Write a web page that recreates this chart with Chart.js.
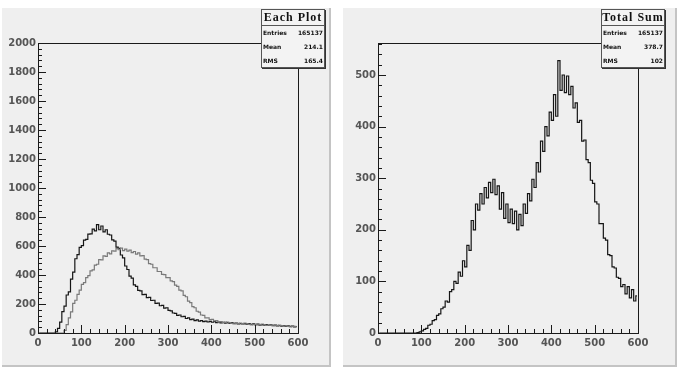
<!DOCTYPE html>
<html>
<head>
<meta charset="utf-8">
<script src="https://cdn.jsdelivr.net/npm/chart.js@4.4.0/dist/chart.umd.min.js"></script>
<style>
  html, body { margin: 0; padding: 0; background: #fff; }
  body { width: 687px; height: 369px; position: relative; overflow: hidden; }
  .pad {
    position: absolute; top: 8px; height: 357px;
    background: #efefef;
    border-right: 2px solid #c4c4c4;
    border-bottom: 2px solid #c4c4c4;
  }
  #padL { left: 2px; width: 327px; }
  #padR { left: 343px; width: 332px; }
  .pad canvas { position: absolute; left: 0; top: 0; }
  .stats {
    position: absolute; top: 1px; width: 62px; height: 57px;
    background: #f3f3f3; border: 1px solid #555;
    box-shadow: 1px 1px 0 #333;
    color: #111; overflow: hidden;
  }
  .stats .title {
    height: 15px; line-height: 15px; border-bottom: 1px solid #555;
    font-family: "Liberation Serif", serif; font-weight: bold; font-size: 12px;
    letter-spacing: 1px; text-align: center; white-space: nowrap;
  }
  .stats .row {
    height: 14px; line-height: 14px; padding: 0 1px;
    font-family: "DejaVu Sans", sans-serif; font-weight: bold; font-size: 6px;
    display: flex; justify-content: space-between; white-space: nowrap;
  }
</style>
</head>
<body>
<div class="pad" id="padL">
  <canvas id="chartL" width="327" height="357"></canvas>
  <div class="stats" style="left:259px">
    <div class="title">Each Plot</div>
    <div class="row"><span>Entries</span><span>165137</span></div>
    <div class="row"><span>Mean</span><span>214.1</span></div>
    <div class="row"><span>RMS</span><span>165.4</span></div>
  </div>
</div>
<div class="pad" id="padR">
  <canvas id="chartR" width="332" height="357"></canvas>
  <div class="stats" style="left:258px">
    <div class="title">Total Sum</div>
    <div class="row"><span>Entries</span><span>165137</span></div>
    <div class="row"><span>Mean</span><span>378.7</span></div>
    <div class="row"><span>RMS</span><span>102</span></div>
  </div>
</div>
<script>
// histogram binning: 120 bins of width 5 from 0 to 600
const X_MIN = 0;
const X_MAX = 600;
const BIN_W = 5;

// left pad ("Each Plot"): two overlaid histograms
const eachPlotA = [
  0, 0, 0, 0, 0, 0, 0, 0, 8, 32,
  75, 148, 185, 262, 284, 372, 420, 512, 541, 590,
  602, 641, 646, 682, 684, 716, 704, 748, 712, 738,
  698, 712, 681, 676, 642, 634, 592, 584, 538, 518,
  462, 438, 392, 378, 332, 322, 294, 290, 264, 266,
  244, 246, 224, 226, 204, 206, 188, 190, 172, 174,
  156, 152, 138, 136, 122, 124, 112, 114, 100, 104,
  92, 96, 86, 90, 82, 86, 78, 82, 76, 80,
  74, 78, 72, 76, 70, 74, 68, 73, 66, 71,
  65, 69, 63, 67, 62, 66, 60, 64, 58, 63,
  57, 61, 55, 59, 54, 58, 52, 56, 51, 55,
  49, 53, 48, 51, 46, 50, 44, 48, 42, 45
];
const eachPlotB = [
  0, 0, 0, 0, 0, 0, 0, 0, 0, 0,
  0, 0, 18, 58, 104, 146, 204, 226, 266, 296,
  336, 348, 382, 396, 428, 436, 468, 474, 506, 504,
  532, 528, 552, 546, 566, 564, 582, 574, 586, 568,
  578, 564, 572, 554, 562, 544, 552, 532, 534, 510,
  506, 478, 474, 450, 450, 424, 424, 404, 402, 382,
  382, 360, 354, 330, 322, 296, 290, 260, 250, 220,
  210, 182, 174, 150, 144, 124, 122, 104, 104, 92,
  94, 84, 86, 76, 79, 72, 75, 68, 71, 66,
  68, 64, 67, 62, 65, 61, 63, 59, 61, 58,
  60, 56, 58, 55, 57, 53, 55, 52, 54, 50,
  52, 49, 51, 47, 49, 46, 47, 44, 46, 43
];

// right pad ("Total Sum")
const totalSum = [
  0, 0, 0, 0, 0, 0, 0, 0, 0, 0,
  0, 0, 0, 0, 0, 0, 0, 0, 1, 2,
  4, 7, 9, 15, 17, 24, 26, 34, 37, 47,
  50, 62, 60, 80, 84, 100, 96, 118, 110, 140,
  128, 170, 160, 218, 200, 250, 238, 270, 250, 282,
  262, 292, 272, 298, 268, 285, 240, 272, 222, 250,
  214, 240, 212, 236, 200, 230, 208, 250, 232, 270,
  256, 298, 282, 330, 312, 372, 352, 400, 382, 428,
  412, 462, 420, 528, 470, 500, 466, 498, 462, 478,
  436, 446, 408, 412, 372, 374, 336, 330, 296, 290,
  254, 250, 212, 212, 184, 180, 152, 150, 128, 126,
  108, 106, 90, 94, 76, 90, 68, 84, 62, 72
];

const xTickLabels = [0, 100, 200, 300, 400, 500, 600];
const yMaxLeft = 2000;
const yMaxRight = 562;

function toPoints(values) {
  return values.map((v, i) => ({ x: X_MIN + BIN_W * (i + 0.5), y: v }));
}

// ROOT style frame with ticks pointing into the pad
function rootFrame(tk) {
  return {
    id: 'rootFrame',
    afterDraw(chart) {
      const ctx = chart.ctx;
      const a = chart.chartArea;
      const x = chart.scales.x, y = chart.scales.y;
      const left = Math.round(a.left), top = Math.round(a.top);
      const right = Math.round(a.right), bottom = Math.round(a.bottom);
      ctx.save();
      ctx.fillStyle = '#1a1a1a';
      // frame
      ctx.fillRect(left, top, right - left + 1, 1);
      ctx.fillRect(left, bottom, right - left + 1, 1);
      ctx.fillRect(left, top, 1, bottom - top + 1);
      ctx.fillRect(right, top, 1, bottom - top + 1);
      // ticks
      const nx = Math.round((X_MAX - X_MIN) / tk.xMinor);
      for (let i = 0; i <= nx; i++) {
        const px = Math.round(x.getPixelForValue(X_MIN + i * tk.xMinor));
        const len = (i % tk.xPer === 0) ? 8 : 4;
        ctx.fillRect(px, bottom - len, 1, len);
      }
      const ny = Math.floor(tk.yMax / tk.yMinor);
      for (let i = 0; i <= ny; i++) {
        const py = Math.round(y.getPixelForValue(i * tk.yMinor));
        const len = (i % tk.yPer === 0) ? 8 : 4;
        ctx.fillRect(left, py, len, 1);
      }
      ctx.restore();
    }
  };
}

const tickFont = { family: 'DejaVu Sans', size: 10, weight: 'bold' };

function makeChart(id, datasets, yMax, yStep, yMinor, plotLeft, plotRight) {
  const canvas = document.getElementById(id);
  return new Chart(canvas, {
    type: 'line',
    data: { datasets },
    options: {
      responsive: false,
      animation: false,
      events: [],
      layout: { padding: { left: 0, top: 35, right: canvas.width - plotRight, bottom: 0 } },
      plugins: {
        legend: { display: false },
        tooltip: { enabled: false }
      },
      elements: { point: { radius: 0 } },
      scales: {
        x: {
          type: 'linear', min: X_MIN, max: X_MAX,
          grid: { display: false, drawTicks: false },
          border: { display: false },
          afterBuildTicks: s => { s.ticks = xTickLabels.map(v => ({ value: v })); },
          afterFit: s => { s.height = 357 - 325; },
          ticks: { font: tickFont, color: '#555', padding: 4, maxRotation: 0, autoSkip: false,
                   callback: v => String(v) }
        },
        y: {
          type: 'linear', min: 0, max: yMax,
          grid: { display: false, drawTicks: false },
          border: { display: false },
          afterBuildTicks: s => { s.ticks = s.ticks.filter(t => t.value % yStep === 0); },
          afterFit: s => { s.width = plotLeft; },
          ticks: { stepSize: yStep, font: tickFont, color: '#555', padding: 2,
                   callback: v => String(v) }
        }
      }
    },
    plugins: [rootFrame({ xMinor: 20, xPer: 5, yMinor: yMinor, yPer: yStep / yMinor, yMax: yMax })]
  });
}

makeChart('chartL', [
  { data: toPoints(eachPlotB), borderColor: '#7a7a7a', borderWidth: 1.2, stepped: 'middle', fill: false },
  { data: toPoints(eachPlotA), borderColor: '#151515', borderWidth: 1.2, stepped: 'middle', fill: false }
], yMaxLeft, 200, 40, 36, 296);

makeChart('chartR', [
  { data: toPoints(totalSum), borderColor: '#151515', borderWidth: 1.2, stepped: 'middle', fill: false }
], yMaxRight, 100, 20, 35, 295);
</script>
</body>
</html>
